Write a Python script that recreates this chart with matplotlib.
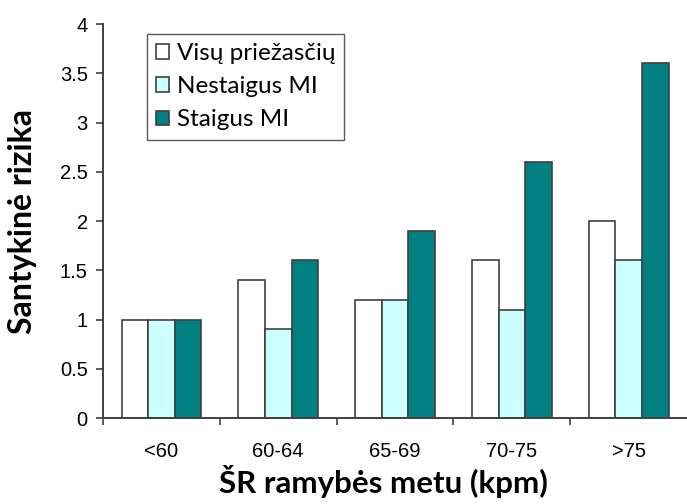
import matplotlib
matplotlib.use("Agg")
import matplotlib.pyplot as plt
import numpy as np

categories = ["<60", "60-64", "65-69", "70-75", ">75"]
visu_priezasciu = [1.0, 1.4, 1.2, 1.6, 2.0]
nestaigus_mi = [1.0, 0.9, 1.2, 1.1, 1.6]
staigus_mi = [1.0, 1.6, 1.9, 2.6, 3.6]
series_names = ["Visų priežasčių", "Nestaigus MI", "Staigus MI"]
y_ticks = [0, 0.5, 1, 1.5, 2, 2.5, 3, 3.5, 4]
y_tick_labels = ["0", "0.5", "1", "1.5", "2", "2.5", "3", "3.5", "4"]

fig = plt.figure(figsize=(6.87, 5.04), dpi=100)
ax = fig.add_axes([0.150, 0.1706, 0.850, 0.7817])

x = np.arange(len(categories))
w = 0.228
edge = "#404040"
colors = ["#FFFFFF", "#CCFFFF", "#008080"]
for i, (vals, name, c) in enumerate(zip([visu_priezasciu, nestaigus_mi, staigus_mi], series_names, colors)):
    ax.bar(x + (i - 1) * w, vals, width=w, color=c, edgecolor=edge, linewidth=1.2,
           label=name, zorder=2)

ax.set_xlim(-0.5, len(categories) - 0.5)
ax.set_ylim(0, 4)

for s in ["top", "right"]:
    ax.spines[s].set_visible(False)
for s in ["left", "bottom"]:
    ax.spines[s].set_color(edge)
    ax.spines[s].set_linewidth(1.4)

ax.set_yticks(y_ticks)
ax.set_yticklabels(y_tick_labels, fontfamily="Liberation Sans", fontsize=14.5)
ax.tick_params(axis="y", direction="out", length=5, width=1.2, color=edge, pad=6)

ax.set_xticks(x)
ax.set_xticklabels(categories, fontfamily="Liberation Sans", fontsize=14.5)
ax.set_xticks(np.arange(len(categories)) - 0.5, minor=True)
ax.tick_params(axis="x", which="major", length=0, pad=17)
ax.tick_params(axis="x", which="minor", direction="out", length=5, width=1.2, color=edge)

ax.set_xlabel("ŠR ramybės metu (kpm)", fontfamily="Lato", fontweight="bold", fontsize=22.5)
ax.xaxis.set_label_coords(0.48, -0.12, transform=ax.transAxes)
ax.xaxis.label.set_va("top")
ax.set_ylabel("Santykinė rizika", fontfamily="Lato", fontweight="bold", fontsize=23)
ax.yaxis.set_label_coords(-0.113, 0.5, transform=ax.transAxes)

leg = ax.legend(loc="upper left", bbox_to_anchor=(0.075, 0.975), frameon=True, fancybox=False,
                edgecolor="#303030", prop={"family": "Lato", "size": 17.5},
                handlelength=0.55, handleheight=0.55, handletextpad=0.3,
                borderpad=0.38, labelspacing=0.5, borderaxespad=0)
leg.get_frame().set_linewidth(1.0)

fig.savefig("out.png", dpi=100)
